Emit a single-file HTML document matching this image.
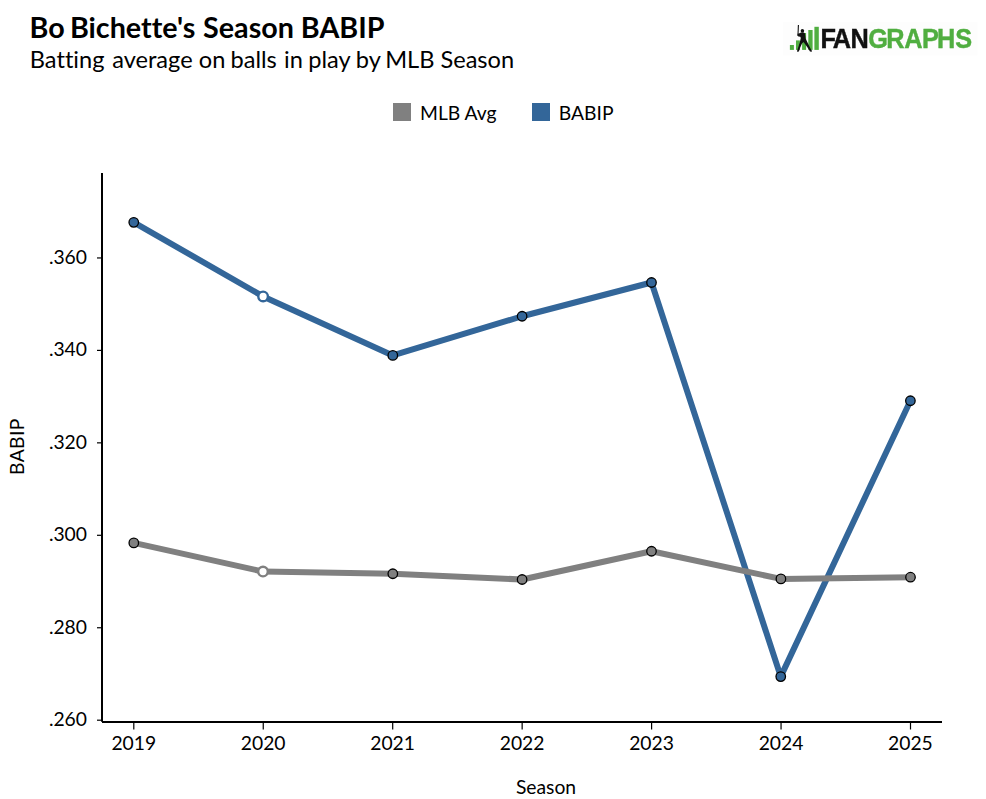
<!DOCTYPE html>
<html><head>
<meta charset="utf-8">
<style>
html,body{margin:0;padding:0;background:#fff;}
body{width:986px;height:799px;overflow:hidden;position:relative;font-family:Lato,"Liberation Sans",sans-serif;color:#000;}
svg{position:absolute;left:0;top:0;}
.t{font-family:Lato,"Liberation Sans",sans-serif;font-variant-ligatures:none;font-feature-settings:"liga" 0,"clig" 0;}
</style>
</head>
<body>
<svg width="986" height="799" viewBox="0 0 986 799">
  <!-- titles -->
  <text class="t" x="29.5" y="38" font-size="28.7" font-weight="700" fill="#000"><tspan x="29.5" textLength="35.17" lengthAdjust="spacingAndGlyphs">Bo</tspan> <tspan x="69.94" textLength="125.42" lengthAdjust="spacingAndGlyphs">Bichette's</tspan> <tspan x="203.12" textLength="90.84" lengthAdjust="spacingAndGlyphs">Season</tspan> <tspan x="300.83" textLength="83.64" lengthAdjust="spacingAndGlyphs">BABIP</tspan></text>
  <text class="t" x="29.8" y="67.7" font-size="23.6" font-weight="400" fill="#000"><tspan x="29.8" textLength="74.66" lengthAdjust="spacingAndGlyphs">Batting</tspan> <tspan x="112.19" textLength="80.45" lengthAdjust="spacingAndGlyphs">average</tspan> <tspan x="198.77" textLength="26.55" lengthAdjust="spacingAndGlyphs">on</tspan> <tspan x="230.45" textLength="46.30" lengthAdjust="spacingAndGlyphs">balls</tspan> <tspan x="284.08" textLength="18.83" lengthAdjust="spacingAndGlyphs">in</tspan> <tspan x="308.25" textLength="41.83" lengthAdjust="spacingAndGlyphs">play</tspan> <tspan x="355.81" textLength="24.50" lengthAdjust="spacingAndGlyphs">by</tspan> <tspan x="385.14" textLength="49.28" lengthAdjust="spacingAndGlyphs">MLB</tspan> <tspan x="440.46" textLength="73.69" lengthAdjust="spacingAndGlyphs">Season</tspan></text>

  <!-- legend -->
  <rect x="393" y="103" width="18" height="18" fill="#808080"></rect>
  <text class="t" x="420" y="119.8" font-size="19.3" fill="#000" textLength="76.59" lengthAdjust="spacingAndGlyphs">MLB Avg</text>
  <rect x="532" y="103" width="18" height="18" fill="#336699"></rect>
  <text class="t" x="558.8" y="119.8" font-size="19.3" fill="#000" textLength="54.78" lengthAdjust="spacingAndGlyphs">BABIP</text>

  <!-- axes -->
  <g stroke="#000" fill="none">
    <line x1="102" y1="173" x2="102" y2="721.7" stroke-width="2"></line>
    <line x1="102" y1="722" x2="942" y2="722" stroke-width="2"></line>
    <g stroke-width="1.2">
      <line x1="97" y1="720.2" x2="101" y2="720.2"></line>
      <line x1="97" y1="627.75" x2="101" y2="627.75"></line>
      <line x1="97" y1="535.3" x2="101" y2="535.3"></line>
      <line x1="97" y1="442.85" x2="101" y2="442.85"></line>
      <line x1="97" y1="350.4" x2="101" y2="350.4"></line>
      <line x1="97" y1="257.95" x2="101" y2="257.95"></line>
      <line x1="133.8" y1="723" x2="133.8" y2="729.5"></line>
      <line x1="263.25" y1="723" x2="263.25" y2="729.5"></line>
      <line x1="392.7" y1="723" x2="392.7" y2="729.5"></line>
      <line x1="522.15" y1="723" x2="522.15" y2="729.5"></line>
      <line x1="651.6" y1="723" x2="651.6" y2="729.5"></line>
      <line x1="781.05" y1="723" x2="781.05" y2="729.5"></line>
      <line x1="910.5" y1="723" x2="910.5" y2="729.5"></line>
    </g>
  </g>
  <!-- y labels -->
  <g class="t" font-size="19.3" text-anchor="end" fill="#000">
    <text x="87" y="726.2" textLength="38.11" lengthAdjust="spacingAndGlyphs">.260</text>
    <text x="87" y="633.75" textLength="38.11" lengthAdjust="spacingAndGlyphs">.280</text>
    <text x="87" y="541.3" textLength="38.11" lengthAdjust="spacingAndGlyphs">.300</text>
    <text x="87" y="448.85" textLength="38.11" lengthAdjust="spacingAndGlyphs">.320</text>
    <text x="87" y="356.4" textLength="38.11" lengthAdjust="spacingAndGlyphs">.340</text>
    <text x="87" y="263.95" textLength="38.11" lengthAdjust="spacingAndGlyphs">.360</text>
  </g>
  <!-- x labels -->
  <g class="t" font-size="19.3" text-anchor="middle" fill="#000">
    <text x="133.75" y="750" textLength="44.73" lengthAdjust="spacingAndGlyphs">2019</text>
    <text x="263.2" y="750" textLength="44.73" lengthAdjust="spacingAndGlyphs">2020</text>
    <text x="392.6" y="750" textLength="44.73" lengthAdjust="spacingAndGlyphs">2021</text>
    <text x="522.1" y="750" textLength="44.73" lengthAdjust="spacingAndGlyphs">2022</text>
    <text x="651.5" y="750" textLength="44.73" lengthAdjust="spacingAndGlyphs">2023</text>
    <text x="781" y="750" textLength="44.73" lengthAdjust="spacingAndGlyphs">2024</text>
    <text x="910.4" y="750" textLength="44.73" lengthAdjust="spacingAndGlyphs">2025</text>
  </g>
  <!-- axis titles -->
  <text class="t" x="546" y="794" font-size="19.3" text-anchor="middle" fill="#000" textLength="60.22" lengthAdjust="spacingAndGlyphs">Season</text>
  <text class="t" transform="translate(24,446.7) rotate(-90)" x="0" y="0" font-size="19.3" letter-spacing="0.35" text-anchor="middle" fill="#000" textLength="56.53" lengthAdjust="spacingAndGlyphs">BABIP</text>

  <!-- BABIP series -->
  <polyline fill="none" stroke="#336699" stroke-width="6" stroke-linejoin="round" points="133.75,222.35 263.1,296.4 392.8,355.4 522.1,316.25 651.5,282.5 780.75,676.6 910.4,400.75"></polyline>
  <!-- MLB series -->
  <polyline fill="none" stroke="#808080" stroke-width="6" stroke-linejoin="round" points="133.8,542.9 263,571.6 392.8,573.75 522.1,579.5 651.5,551.25 780.9,578.9 910.5,577.2"></polyline>

  <!-- BABIP markers -->
  <g fill="#336699" stroke="#000" stroke-width="1.3">
    <circle cx="133.75" cy="222.35" r="4.75"></circle>
    <circle cx="392.8" cy="355.4" r="4.75"></circle>
    <circle cx="522.1" cy="316.25" r="4.75"></circle>
    <circle cx="651.5" cy="282.5" r="4.75"></circle>
    <circle cx="780.75" cy="676.6" r="4.75"></circle>
    <circle cx="910.4" cy="400.75" r="4.75"></circle>
  </g>
  <circle cx="263.1" cy="296.4" r="4.8" fill="#fff" stroke="#336699" stroke-width="2.4"></circle>
  <!-- MLB markers -->
  <g fill="#808080" stroke="#000" stroke-width="1.3">
    <circle cx="133.8" cy="542.9" r="4.75"></circle>
    <circle cx="392.8" cy="573.75" r="4.75"></circle>
    <circle cx="522.1" cy="579.5" r="4.75"></circle>
    <circle cx="651.5" cy="551.25" r="4.75"></circle>
    <circle cx="780.9" cy="578.9" r="4.75"></circle>
    <circle cx="910.5" cy="577.2" r="4.75"></circle>
  </g>
  <circle cx="263" cy="571.6" r="4.8" fill="#fff" stroke="#808080" stroke-width="2.4"></circle>

</svg>
<svg width="986" height="799" viewBox="0 0 986 799" style="will-change:transform">
  <rect x="783" y="22" width="194.5" height="33.5" fill="#fdfdfd"></rect>
  <!-- FanGraphs logo -->
  <g fill="#50ae40">
    <rect x="789.9" y="45" width="4" height="4.9"></rect>
    <rect x="796" y="40.4" width="3.9" height="9.5"></rect>
    <rect x="802.1" y="33" width="4" height="16.9"></rect>
    <rect x="808.3" y="30" width="4.3" height="19.9"></rect>
    <rect x="814.4" y="26.8" width="4.4" height="23.1"></rect>
  </g>
  <g fill="#111">
    <path d="M797.85,25.1 L799.0,25.0 L798.5,34.2 L797.5,34.4 Z"></path>
    <ellipse cx="802.4" cy="30.8" rx="1.75" ry="1.85"></ellipse>
    <path d="M797.2,35.6 L797.5,33.7 L799.5,33.2 L801,32.4 L803.8,32.5 L805,33.6 L805.3,36 L805.6,38.6 L808,43.5 L810.5,48.5 L812,50.9 L811.6,51.8 L810,51.4 L807.5,47.5 L805,43.9 L803.5,41.9 L802,43.6 L800,48 L798.9,51.6 L797,51.7 L797.2,50.5 L798.5,46.5 L800,41.5 L800.8,38 L800.3,36.8 L798.5,36.4 Z"></path>
  </g>
  <text transform="scale(0.92,1)" x="891.86 905.18 924.36" y="48.1" font-family="'Liberation Sans',Arial,sans-serif" font-weight="700" font-size="27.5" fill="#111" stroke="#111" stroke-width="0.45">FAN<tspan x="943.87 963.27 982.8 1002.07 1018.49 1038.34" fill="#50ae40" stroke="#50ae40">GRAPHS</tspan></text>
</svg>


</body></html>
